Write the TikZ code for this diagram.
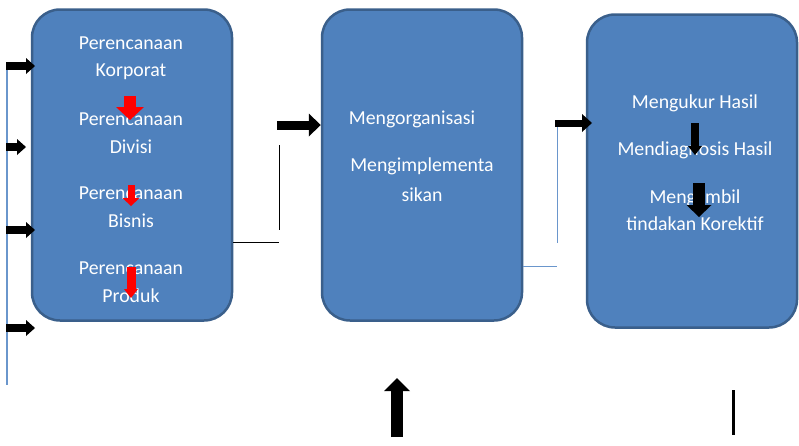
\documentclass[tikz,border=0pt]{standalone}
\usepackage{fontspec}
\setmainfont{Carlito}
\usetikzlibrary{arrows.meta,positioning}
\definecolor{boxfill}{HTML}{4F81BD}
\definecolor{boxline}{HTML}{3A5F8B}
\definecolor{thinblue}{HTML}{6A96CC}
\newcommand{\stagew}{200pt}
\newcommand{\stageh}{311pt}

\begin{document}
\begin{tikzpicture}[x=1pt,y=-1pt,
    stage/.style={draw=boxline, fill=boxfill, line width=2.5pt, rounded corners=28pt,
        minimum width=\stagew, minimum height=\stageh, inner sep=0pt},
    txt/.style={text=white, align=center, inner sep=0pt,
        font=\fontsize{19.8}{27.5}\selectfont},
    fat/.style n args={3}{line width=#1pt,
        -{Triangle[width=#2pt, length=#3pt, line width=0pt]}},
    thin/.style={line width=1pt}
]
    \useasboundingbox (0,0) rectangle (799,445);

    % the three stages
    \node[stage] (plan) at (132,165) {};
    \node[stage] (impl) at (422,165) {};
    \node[stage, minimum width=210pt, minimum height=313pt] (ctrl) at (692,171) {};

    % planning
    \node[txt] (pkorp) at (131,58) {Perencanaan\\Korporat};
    \node[txt] (pdiv) at (131,133) {Perencanaan\\Divisi};
    \node[txt] (pbis) at (131,207) {Perencanaan\\Bisnis};
    \node[txt] (pprod) at (131,282) {Perencanaan\\Produk};

    % implementing
    \node[txt] (org) at (412,119) {Mengorganisasi};
    \node[txt, font=\fontsize{19.8}{30}\selectfont] (imp) at (422,180) {Mengimplementa\\sikan};

    % controlling
    \node[txt] (ukur) at (695,103) {Mengukur Hasil};
    \node[txt] (diag) at (695,150) {Mendiagnosis Hasil};
    \node[txt] (kor) at (695,210) {Mengambil\\tindakan Korektif};

    % red arrows in the planning box
    \coordinate (r1) at (130,96);  \coordinate (r1e) at (130,120);
    \coordinate (r2) at (131,185); \coordinate (r2e) at (131,206);
    \coordinate (r3) at (131,267); \coordinate (r3e) at (131,298);
    \draw[fat={12}{28}{13}, red] (r1) -- (r1e);
    \draw[fat={7}{17}{8}, red] (r2) -- (r2e);
    \draw[fat={9}{14}{9}, red] (r3) -- (r3e);

    % black arrows in the control box
    \coordinate (k1) at (695,123); \coordinate (k1e) at (695,155);
    \coordinate (k2) at (699,183); \coordinate (k2e) at (699,217);
    \draw[fat={8}{14}{9}] (k1) -- (k1e);
    \draw[fat={12}{25}{12}] (k2) -- (k2e);

    % inputs on the left
    \draw[thinblue, line width=1.2pt] (7,66) coordinate (spine) -- (7,385) coordinate (spineend);
    \foreach \i/\y/\l in {1/66/35,2/147/26,3/230/35,4/328/35} {
        \coordinate (in\i) at (6,\y);
        \coordinate (ine\i) at (\l,\y);
    }
    \foreach \i in {1,...,4} {
        \draw[fat={8}{16}{9}] (in\i) -- (ine\i);
    }

    % plan -> impl
    \coordinate (pa) at (279,242);
    \draw[thin] (plan.east |- pa) -- (pa);
    \draw[thin] (279,145) coordinate (pv) -- (279,230) coordinate (pve);
    \coordinate (ia) at (277,125);
    \draw[fat={9}{23}{12}] (ia) -- (ia -| impl.west);

    % impl -> ctrl
    \coordinate (ib) at (557,266);
    \draw[thinblue, thin] (impl.east |- ib) -- (ib);
    \draw[thinblue, thin] (557,127) coordinate (cv) -- (557,243) coordinate (cve);
    \coordinate (ca) at (555,123);
    \draw[fat={7}{18}{10}] (ca) -- (592,123) coordinate (cae);

    % bottom
    \coordinate (up) at (397,437); \coordinate (upe) at (397,378);
    \draw[fat={12}{26}{13}] (up) -- (upe);
    \coordinate (bar) at (733,390); \coordinate (bare) at (733,435);
    \draw[line width=3pt] (bar) -- (bare);
\end{tikzpicture}
\end{document}
